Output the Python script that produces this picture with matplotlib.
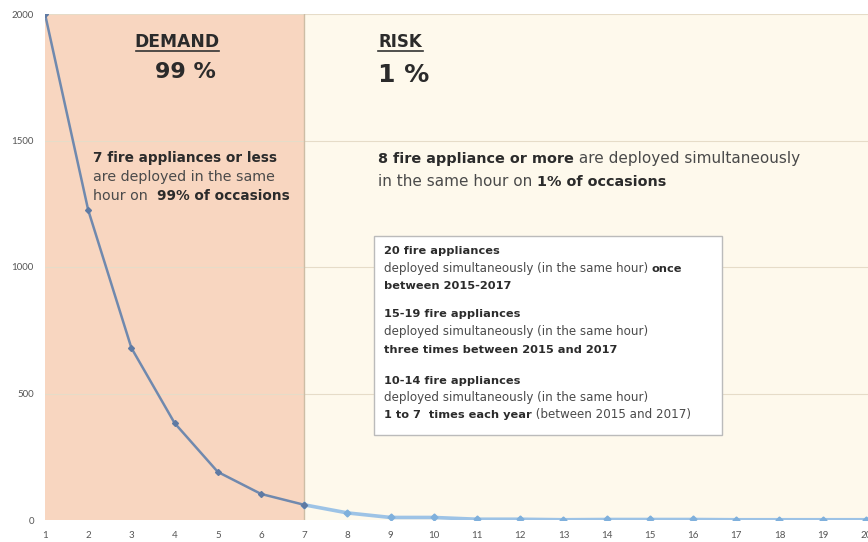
import matplotlib
matplotlib.use("Agg")
import matplotlib.pyplot as plt

# appliances deployed simultaneously vs number of occurrences
appliances = list(range(1, 21))
occurrences = [2000, 1225, 680, 383, 190, 103, 60, 28, 10, 10, 3, 3, 1, 2, 2, 2, 1, 1, 1, 1]
y_ticks = [0, 500, 1000, 1500, 2000]
split_at = 7

W, H = 868, 542
FONT = "DejaVu Sans"
fig = plt.figure(figsize=(W / 100, H / 100), dpi=100)
ax = fig.add_axes([45 / W, 1 - 520 / H, (W - 45) / W, (520 - 14) / H])

ax.axvspan(1, split_at, color="#F8D6C0", lw=0, zorder=0)
ax.axvspan(split_at, 20.05, color="#FEF9EC", lw=0, zorder=0)
ax.axvline(split_at, color="#CDBDA5", lw=1, zorder=1)
for yv in y_ticks[1:]:
    ax.axhline(yv, color="#E6DCC8", lw=0.8, zorder=0.5)

i = appliances.index(split_at)
ax.plot(appliances[i:], occurrences[i:], color="#9DC3E6", lw=2.6, marker="D", ms=3.5,
        mfc="#7FB0DC", mec="#7FB0DC", zorder=3)
ax.plot(appliances[:i + 1], occurrences[:i + 1], color="#7089AE", lw=1.8, marker="D", ms=3,
        mfc="#5F7AA3", mec="#5F7AA3", zorder=4)

ax.set_xlim(1, 20.05)
ax.set_ylim(0, 2000)
ax.set_xticks(appliances)
ax.set_yticks(y_ticks)
ax.tick_params(labelsize=7, colors="#555555", length=0, pad=8)
for lbl in ax.get_xticklabels() + ax.get_yticklabels():
    lbl.set_family("Lato")
for s in ax.spines.values():
    s.set_visible(False)

fig.canvas.draw()
renderer = fig.canvas.get_renderer()


def runs(x, y, pieces, bsize, nsize):
    # pieces: list of (text, bold); x,y in pixels from top-left (y = baseline)
    cx = x
    for txt, bold in pieces:
        t = fig.text(cx / W, 1 - y / H, txt, fontsize=bsize if bold else nsize, family=FONT,
                     fontweight="bold" if bold else "normal",
                     color="#2b2b2b" if bold else "#4a4a4a", va="baseline", ha="left")
        cx += t.get_window_extent(renderer).width


def underline(x0, x1, y):
    fig.add_artist(plt.Line2D([x0 / W, x1 / W], [1 - y / H, 1 - y / H], color="#333333", lw=1.2))


# headings
fig.text(177 / W, 1 - 42 / H, "DEMAND", fontsize=12.3, fontweight="bold", family=FONT,
         color="#2b2b2b", ha="center", va="center")
underline(136, 219, 51)
fig.text(185 / W, 1 - 72 / H, "99 %", fontsize=16, fontweight="bold", family=FONT,
         color="#2b2b2b", ha="center", va="center")
fig.text(378 / W, 1 - 42 / H, "RISK", fontsize=12, fontweight="bold", family=FONT,
         color="#2b2b2b", ha="left", va="center")
underline(378, 423, 51)
fig.text(378 / W, 1 - 75 / H, "1 %", fontsize=18, fontweight="bold", family=FONT,
         color="#2b2b2b", ha="left", va="center")

# demand note
db, dn = 9.8, 10.3
runs(93, 162, [("7 fire appliances or less", True)], db, dn)
runs(93, 181, [("are deployed in the same", False)], db, dn)
runs(93, 200, [("hour on  ", False), ("99% of occasions", True)], db, dn)

# risk note
rb, rn = 10.4, 11.0
runs(378, 163, [("8 fire appliance or more", True), (" are deployed simultaneously", False)], rb, rn)
runs(378, 186, [("in the same hour on ", False), ("1% of occasions", True)], rb, rn)

# box
box = plt.Rectangle((374 / W, 1 - 435 / H), (722 - 374) / W, (435 - 236) / H,
                    transform=fig.transFigure, facecolor="white", edgecolor="#BBBBBB", lw=1)
fig.add_artist(box)
bb, bn = 8.2, 8.6
runs(384, 254, [("20 fire appliances", True)], bb, bn)
runs(384, 272, [("deployed simultaneously (in the same hour) ", False), ("once", True)], bb, bn)
runs(384, 289, [("between 2015-2017", True)], bb, bn)
runs(384, 317, [("15-19 fire appliances", True)], bb, bn)
runs(384, 335, [("deployed simultaneously (in the same hour)", False)], bb, bn)
runs(384, 353, [("three times between 2015 and 2017", True)], bb, bn)
runs(384, 384, [("10-14 fire appliances", True)], bb, bn)
runs(384, 401, [("deployed simultaneously (in the same hour)", False)], bb, bn)
runs(384, 418, [("1 to 7  times each year", True), (" (between 2015 and 2017)", False)], bb, bn)

fig.savefig("out.png", dpi=100)
